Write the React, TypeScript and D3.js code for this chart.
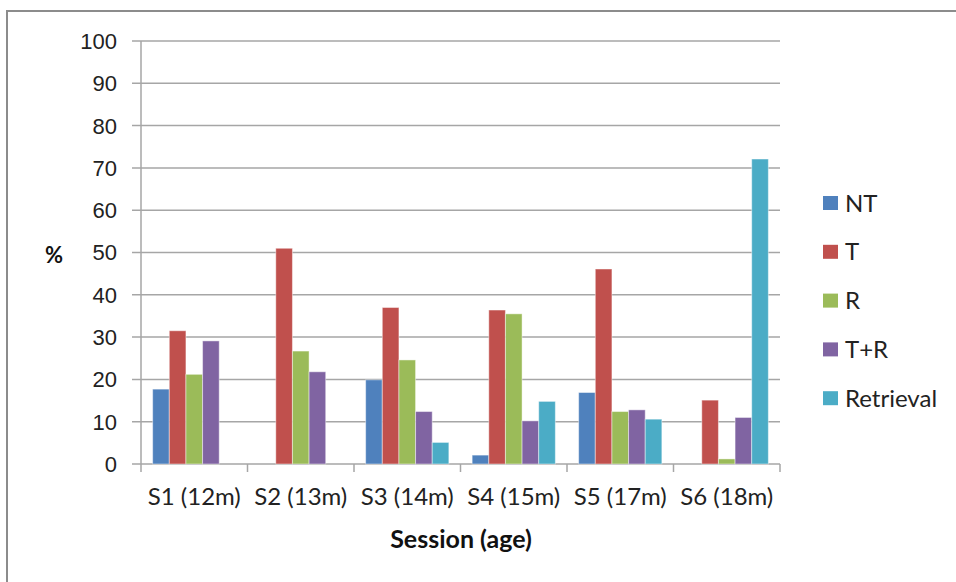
import React from "react";
import * as d3 from "d3";

const categories = ["S1 (12m)", "S2 (13m)", "S3 (14m)", "S4 (15m)", "S5 (17m)", "S6 (18m)"];
const seriesNames = ["NT", "T", "R", "T+R", "Retrieval"];
const seriesColors = ["#4F81BD", "#C0504D", "#9BBB59", "#8064A2", "#4BACC6"];
const NT = [17.7, 0, 19.9, 2.1, 16.9, 0];
const T = [31.5, 51.0, 37.0, 36.4, 46.1, 15.1];
const R = [21.2, 26.7, 24.6, 35.5, 12.4, 1.2];
const TR = [29.1, 21.8, 12.4, 10.2, 12.8, 11.0];
const Retrieval = [0, 0, 5.1, 14.8, 10.6, 72.1];
const yTicks = [0, 10, 20, 30, 40, 50, 60, 70, 80, 90, 100];

const seriesValues = [NT, T, R, TR, Retrieval];

export default function App() {
  const W = 956, H = 582;
  const left = 141, right = 780, top = 41, bottom = 464;
  const x = d3.scaleBand<string>().domain(categories).range([left, right]).paddingInner(0).paddingOuter(0);
  const y = d3.scaleLinear().domain([0, 100]).range([bottom, top]);
  const inner = d3.scaleBand<string>().domain(seriesNames).range([0, x.bandwidth()]).paddingOuter(0.7).paddingInner(0);
  const font = "Lato, 'Open Sans', sans-serif";
  const grid = "#a6a6a6";

  return (
    <div style={{ position: "fixed", left: 0, top: 0 }}>
      <svg width={W} height={H} style={{ display: "block", background: "#fff" }}>
        <rect x={7} y={11} width={W + 20} height={H + 20} fill="#fff" stroke="#8c8c8c" strokeWidth={2} />
        {yTicks.map((t) => (
          <g key={t}>
            <line x1={left - 9} x2={right} y1={y(t)} y2={y(t)} stroke={grid} strokeWidth={1.5} />
            <text x={117} y={y(t)} dy="0.36em" textAnchor="end" fontFamily="'Liberation Sans', Arial, sans-serif" fontSize={22} fill="#222">{t}</text>
          </g>
        ))}
        <line x1={left} x2={left} y1={top} y2={bottom + 8} stroke={grid} strokeWidth={1.5} />
        {categories.map((c, i) => (
          <line key={"tk" + i} x1={x(c)! + x.bandwidth()} x2={x(c)! + x.bandwidth()} y1={bottom} y2={bottom + 8} stroke={grid} strokeWidth={1.5} />
        ))}
        {seriesValues.map((vals, s) =>
          categories.map((c, i) =>
            vals[i] > 0 ? (
              <rect
                key={s + "-" + i}
                x={x(c)! + inner(seriesNames[s])!}
                y={y(vals[i])}
                width={inner.bandwidth()}
                height={y(0) - y(vals[i])}
                fill={seriesColors[s]}
                stroke="#ffffff"
                strokeOpacity={0.45}
                strokeWidth={1}
              />
            ) : null
          )
        )}
        {categories.map((c) => (
          <text key={"cl" + c} x={x(c)! + x.bandwidth() / 2} y={505} textAnchor="middle" fontFamily={font} fontSize={24} fill="#222">{c}</text>
        ))}
        <text x={461} y={548} textAnchor="middle" fontFamily={font} fontWeight="bold" fontSize={25} fill="#111">Session (age)</text>
        <text x={54} y={263} textAnchor="middle" fontFamily={font} fontWeight="bold" fontSize={22} fill="#111">%</text>
        {seriesNames.map((n, i) => (
          <g key={"lg" + n} transform={`translate(823, ${203 + i * 48.8})`}>
            <rect x={0} y={-7} width={15} height={14} fill={seriesColors[i]} />
            <text x={22} y={0} dy="0.36em" fontFamily={font} fontSize={24} fill="#222">{n}</text>
          </g>
        ))}
      </svg>
    </div>
  );
}
